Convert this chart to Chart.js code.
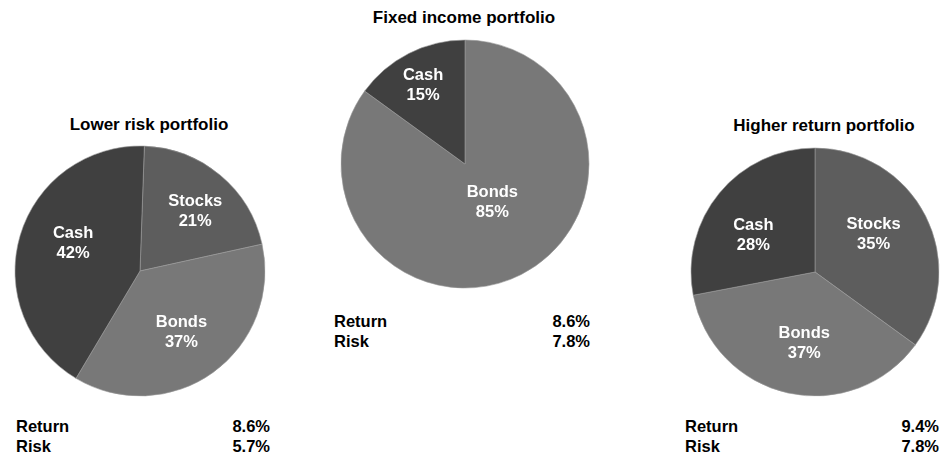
<!DOCTYPE html>
<html>
<head>
<meta charset="utf-8">
<script src="https://cdn.jsdelivr.net/npm/chart.js@4"></script>
<style>
  html, body { margin: 0; padding: 0; background: #fff; }
  body { width: 944px; height: 454px; position: relative; overflow: hidden;
         font-family: "Liberation Sans", Arial, sans-serif; font-weight: bold; color: #000; }
  canvas { position: absolute; }
  .title { position: absolute; font-size: 17px; line-height: 17px; white-space: nowrap; transform: translateX(-50%); }
  .stats { position: absolute; font-size: 16.5px; line-height: 20px; }
  .stats div { display: flex; justify-content: space-between; }
</style>
</head>
<body>
<canvas id="lowerChart" width="260" height="260" style="left:10px; top:141px"></canvas>
<canvas id="fixedChart" width="260" height="260" style="left:335px; top:34px"></canvas>
<canvas id="higherChart" width="260" height="260" style="left:685px; top:142px"></canvas>

<div class="title" style="left:149px; top:116px">Lower risk portfolio</div>
<div class="title" style="left:464px; top:9px">Fixed income portfolio</div>
<div class="title" style="left:824px; top:117px">Higher return portfolio</div>

<div class="stats" id="lowerStats" style="left:16px; top:415.5px; width:254px"></div>
<div class="stats" id="fixedStats" style="left:334px; top:311px; width:256px"></div>
<div class="stats" id="higherStats" style="left:685px; top:415.5px; width:254px"></div>

<script>
// data
const lowerLabels = ['Stocks', 'Bonds', 'Cash'];
const lowerValues = [21, 37, 42];
const fixedLabels = ['Bonds', 'Cash'];
const fixedValues = [85, 15];
const higherLabels = ['Stocks', 'Bonds', 'Cash'];
const higherValues = [35, 37, 28];

const statNames = ['Return', 'Risk'];
const lowerStats = [8.6, 5.7];
const fixedStats = [8.6, 7.8];
const higherStats = [9.4, 7.8];

const sliceColors = { Cash: '#404040', Stocks: '#5d5d5d', Bonds: '#787878' };

// label placement inside each slice: [fraction of radius, angle nudge in degrees]
const pieLabelPlugin = {
    id: 'pieLabels',
    afterDatasetsDraw(chart, args, opts) {
        const ctx = chart.ctx;
        const meta = chart.getDatasetMeta(0);
        const ds = chart.data.datasets[0];
        ctx.save();
        ctx.fillStyle = '#ffffff';
        ctx.font = 'bold 16.5px "Liberation Sans", Arial, sans-serif';
        ctx.textAlign = 'center';
        ctx.textBaseline = 'middle';
        meta.data.forEach((arc, i) => {
            const place = opts.place[i] || [0.6, 0];
            const mid = (arc.startAngle + arc.endAngle) / 2 + place[1] * Math.PI / 180;
            const r = arc.outerRadius * place[0];
            const x = arc.x + Math.cos(mid) * r;
            const y = arc.y + Math.sin(mid) * r;
            ctx.fillText(chart.data.labels[i], x, y - 10);
            ctx.fillText(ds.data[i] + '%', x, y + 10);
        });
        ctx.restore();
    }
};

function makePie(id, labels, values, radius, rotation, place) {
    return new Chart(document.getElementById(id), {
        type: 'pie',
        data: {
            labels: labels,
            datasets: [{
                data: values,
                backgroundColor: labels.map(l => sliceColors[l]),
                borderColor: '#9a9a9a',
                borderWidth: 0.6,
                hoverOffset: 0
            }]
        },
        options: {
            responsive: false,
            animation: false,
            radius: radius,
            rotation: rotation,
            layout: { padding: 0 },
            events: [],
            plugins: {
                legend: { display: false },
                tooltip: { enabled: false },
                pieLabels: { place: place }
            }
        },
        plugins: [pieLabelPlugin]
    });
}

makePie('lowerChart', lowerLabels, lowerValues, 125, 2, [[0.65, 3], [0.59, 1.6], [0.58, 6.3]]);
makePie('fixedChart', fixedLabels, fixedValues, 124, 0, [[0.38, -8.5], [0.72, -1]]);
makePie('higherChart', higherLabels, higherValues, 124, 0, [[0.56, -5.4], [0.58, -4], [0.58, -8.6]]);

function fillStats(id, values) {
    const box = document.getElementById(id);
    statNames.forEach((name, i) => {
        const row = document.createElement('div');
        row.innerHTML = '<span>' + name + '</span><span>' + values[i].toFixed(1) + '%</span>';
        box.appendChild(row);
    });
}
fillStats('lowerStats', lowerStats);
fillStats('fixedStats', fixedStats);
fillStats('higherStats', higherStats);
</script>
</body>
</html>
